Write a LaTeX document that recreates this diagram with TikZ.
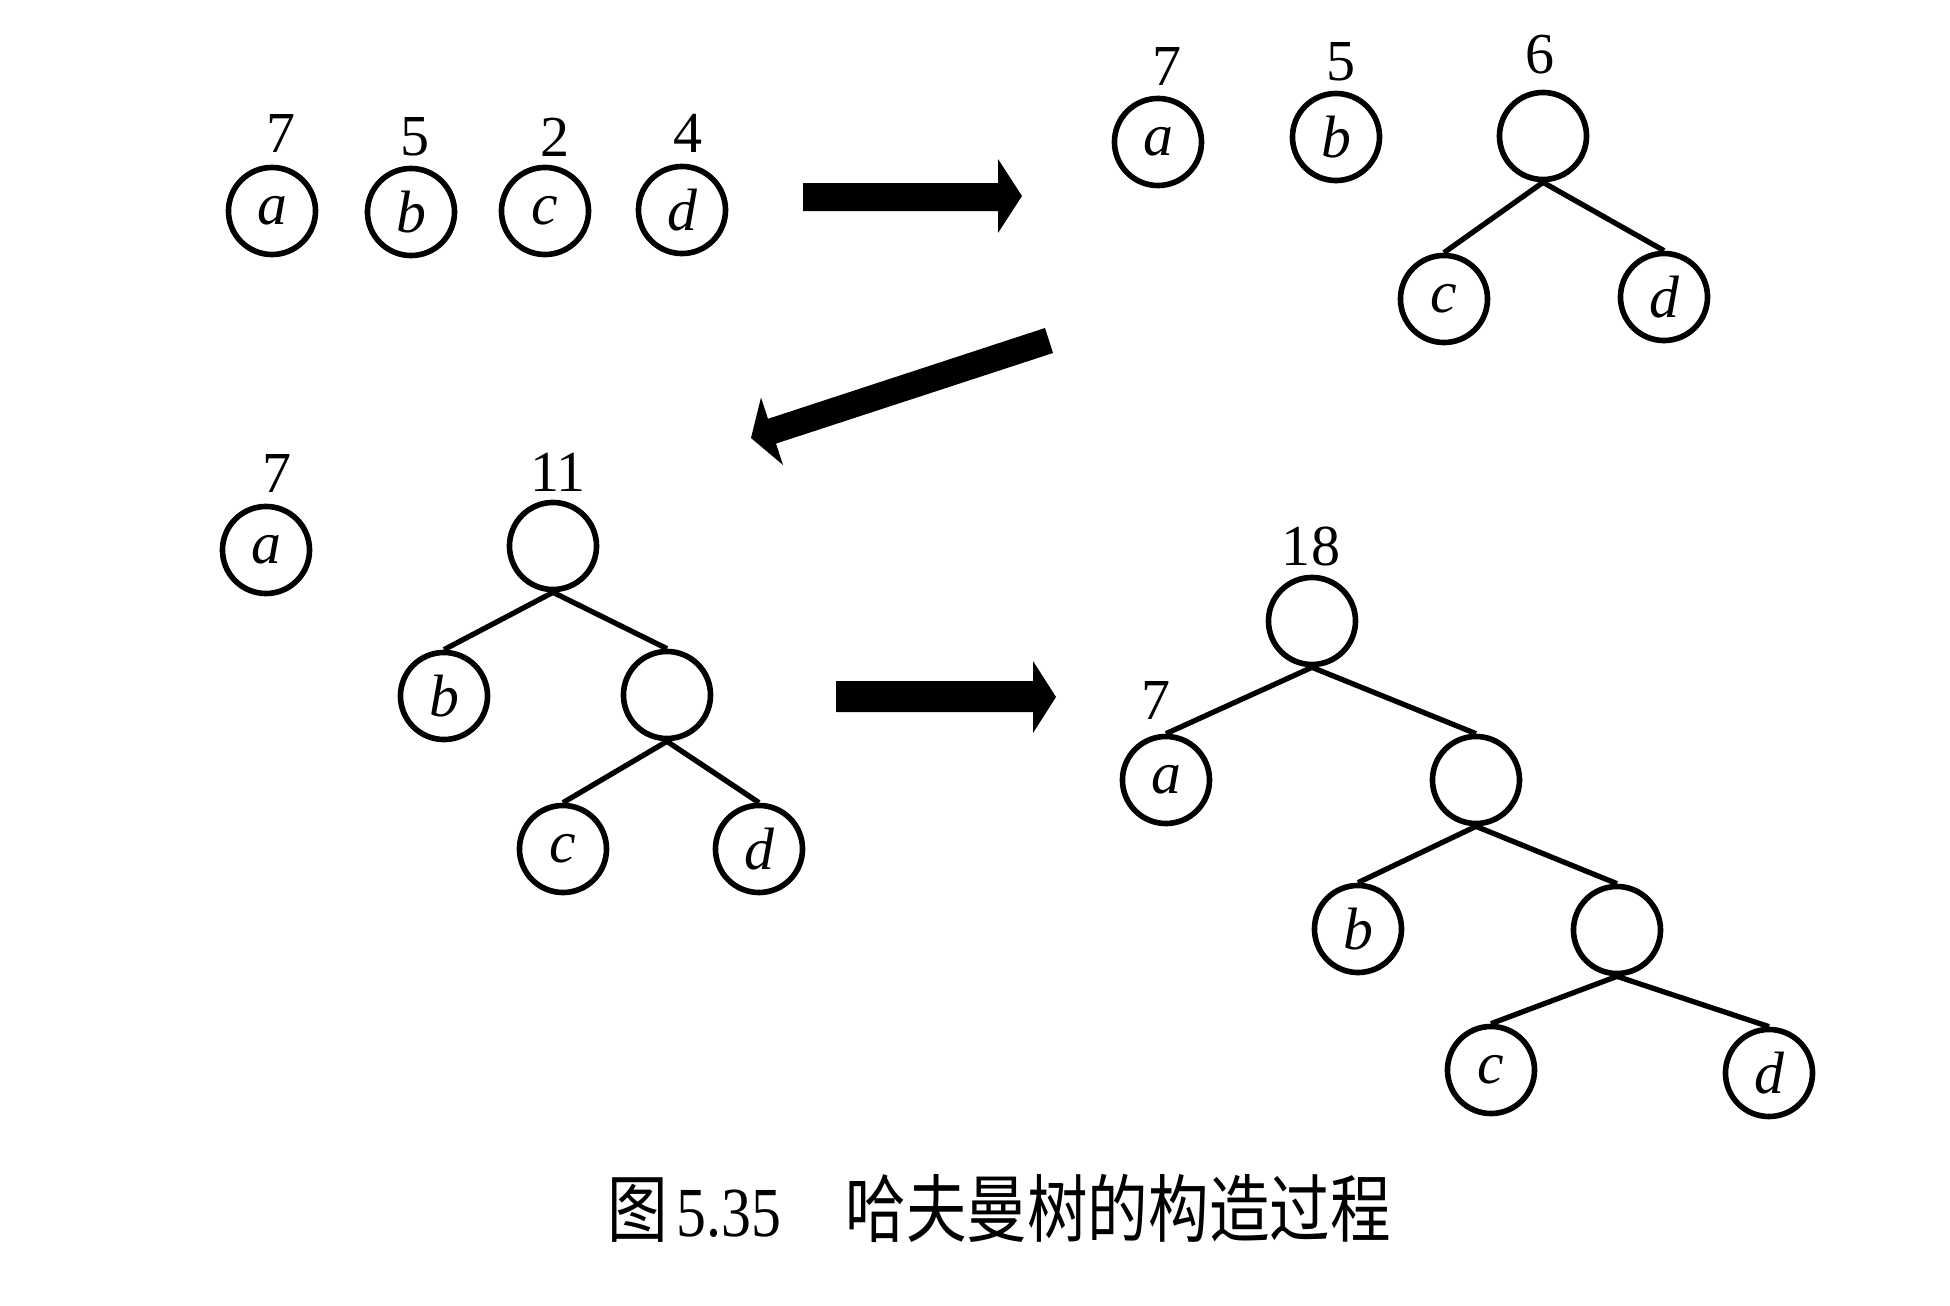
\documentclass[tikz,border=0pt]{standalone}
\usepackage{fontspec}
\setmainfont{Liberation Serif}
\newfontfamily\cjkfont[FakeStretch=0.82]{Noto Sans CJK SC}
\newfontfamily\capnumfont[FakeStretch=0.85]{Liberation Serif}
\begin{document}
\begin{tikzpicture}[x=0.01cm,y=-0.01cm,
  nd/.style={circle,draw,line width=1.6pt,minimum size=0.87cm,inner sep=0pt,
    font=\fontsize{17pt}{17pt}\selectfont\itshape},
  num/.style={inner sep=0pt,font=\fontsize{16.5pt}{16.5pt}\selectfont},
  edge/.style={line width=1.5pt},
  bigarrow/.style={fill=black},
  capcjk/.style={inner sep=0pt,anchor=base west,font=\fontsize{21pt}{21pt}\selectfont\cjkfont},
  capnum/.style={inner sep=0pt,anchor=base west,font=\fontsize{20pt}{20pt}\selectfont\capnumfont}]
\useasboundingbox (0,0) rectangle (1950,1306);

% ---- stage 1: four single nodes
\node[nd] (a1) at (272,211) {a};
\node[nd] (b1) at (411,212) {b};
\node[nd] (c1) at (545,211) {c};
\node[nd] (d1) at (682,210) {d};
\node[num] (la1) at (281,134) {7};
\node[num] (lb1) at (415,137) {5};
\node[num] (lc1) at (555,137) {2};
\node[num] (ld1) at (688,133) {4};

% ---- stage 2
\node[nd] (a2) at (1158,142) {a};
\node[nd] (b2) at (1336,137) {b};
\node[nd] (r2) at (1543,136) {};
\node[nd] (c2) at (1444,299) {c};
\node[nd] (d2) at (1664,297) {d};
\node[num] (la2) at (1167,67) {7};
\node[num] (lb2) at (1341,62) {5};
\node[num] (lr2) at (1540,55) {6};
\draw[edge] (r2.south) -- (c2.north);
\draw[edge] (r2.south) -- (d2.north);

% ---- stage 3
\node[nd] (a3) at (266,550) {a};
\node[nd] (r3) at (553,546) {};
\node[nd] (b3) at (444,696) {b};
\node[nd] (n3) at (667,695) {};
\node[nd] (c3) at (563,849) {c};
\node[nd] (d3) at (759,849) {d};
\node[num] (la3) at (277,473) {7};
\node[num] (lr3) at (558,472) {11};
\draw[edge] (r3.south) -- (b3.north);
\draw[edge] (r3.south) -- (n3.north);
\draw[edge] (n3.south) -- (c3.north);
\draw[edge] (n3.south) -- (d3.north);

% ---- stage 4
\node[nd] (r4) at (1312,621) {};
\node[nd] (a4) at (1166,780) {a};
\node[nd] (n4) at (1476,780) {};
\node[nd] (b4) at (1358,929) {b};
\node[nd] (m4) at (1617,930) {};
\node[nd] (c4) at (1491,1070) {c};
\node[nd] (d4) at (1769,1073) {d};
\node[num] (lr4) at (1311,546) {18};
\node[num] (la4) at (1156,700) {7};
\draw[edge] (r4.south) -- (a4.north);
\draw[edge] (r4.south) -- (n4.north);
\draw[edge] (n4.south) -- (b4.north);
\draw[edge] (n4.south) -- (m4.north);
\draw[edge] (m4.south) -- (c4.north);
\draw[edge] (m4.south) -- (d4.north);

% ---- block arrows between the stages
\fill[bigarrow] (803,183) -- (998,183) -- (998,159) -- (1022,196)
  -- (998,233) -- (998,211) -- (803,211) -- cycle;
\fill[bigarrow] (1045,328) -- (1053,353) -- (776,443.6) -- (783,465)
  -- (751,438) -- (761,397.5) -- (768,418.8) -- cycle;
\fill[bigarrow] (836,681) -- (1033,681) -- (1033,661) -- (1056,697)
  -- (1033,733) -- (1033,712) -- (836,712) -- cycle;

% ---- caption
\node[capcjk] (cap1) at (607,1236) {图};
\node[capnum] (cap2) at (676,1236) {5.35};
\node[capcjk] (cap3) at (845,1236) {哈夫曼树的构造过程};
\end{tikzpicture}
\end{document}
